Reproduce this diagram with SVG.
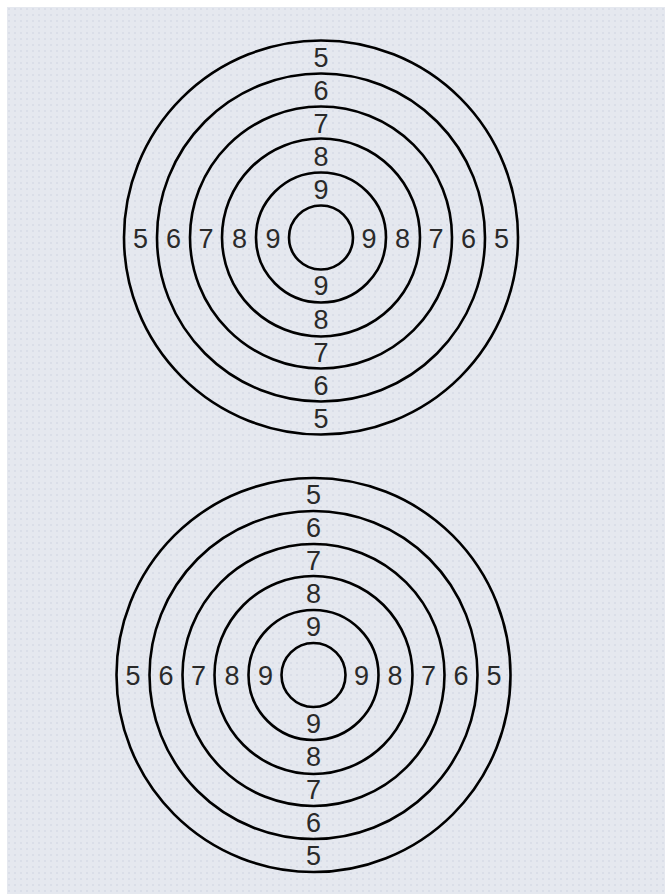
<svg xmlns="http://www.w3.org/2000/svg" width="665" height="894" viewBox="0 0 665 894">
  <defs>
    <pattern id="dots" x="7" y="7" width="6" height="6" patternUnits="userSpaceOnUse">
      <rect width="6" height="6" fill="#e5e8ef"/>
      <rect x="1" y="1" width="2" height="2" fill="#dadee8"/>
    </pattern>
  </defs>
  <style>
    .ring { fill: none; stroke: #000; stroke-width: 2.6; }
    .lbl { font-family: "Liberation Sans", Arial, sans-serif; font-size: 27px; fill: #2a2a2a; text-anchor: middle; }
  </style>
  <rect x="0" y="0" width="665" height="894" fill="#ffffff"/>
  <rect x="7" y="7" width="658" height="887" fill="url(#dots)"/>

  <g id="target-top" transform="translate(321,237.5)">
    <circle class="ring" r="197"/>
    <circle class="ring" r="164"/>
    <circle class="ring" r="131"/>
    <circle class="ring" r="99"/>
    <circle class="ring" r="65"/>
    <circle class="ring" r="32"/>
    <g class="lbl">
      <text x="0" y="-171">5</text>
      <text x="0" y="-138">6</text>
      <text x="0" y="-105">7</text>
      <text x="0" y="-72">8</text>
      <text x="0" y="-39">9</text>
      <text x="0" y="57.5">9</text>
      <text x="0" y="91">8</text>
      <text x="0" y="124">7</text>
      <text x="0" y="157">6</text>
      <text x="0" y="190">5</text>
      <text x="-180.5" y="10">5</text>
      <text x="-147.5" y="10">6</text>
      <text x="-115" y="10">7</text>
      <text x="-81.5" y="10">8</text>
      <text x="-48" y="10">9</text>
      <text x="48" y="10">9</text>
      <text x="81.5" y="10">8</text>
      <text x="115" y="10">7</text>
      <text x="147.5" y="10">6</text>
      <text x="180.5" y="10">5</text>
    </g>
  </g>

  <g id="target-bottom" transform="translate(313.5,675)">
    <circle class="ring" r="197"/>
    <circle class="ring" r="164"/>
    <circle class="ring" r="131"/>
    <circle class="ring" r="99"/>
    <circle class="ring" r="65"/>
    <circle class="ring" r="32"/>
    <g class="lbl">
      <text x="0" y="-171">5</text>
      <text x="0" y="-138">6</text>
      <text x="0" y="-105">7</text>
      <text x="0" y="-72">8</text>
      <text x="0" y="-39">9</text>
      <text x="0" y="57.5">9</text>
      <text x="0" y="91">8</text>
      <text x="0" y="124">7</text>
      <text x="0" y="157">6</text>
      <text x="0" y="190">5</text>
      <text x="-180.5" y="10">5</text>
      <text x="-147.5" y="10">6</text>
      <text x="-115" y="10">7</text>
      <text x="-81.5" y="10">8</text>
      <text x="-48" y="10">9</text>
      <text x="48" y="10">9</text>
      <text x="81.5" y="10">8</text>
      <text x="115" y="10">7</text>
      <text x="147.5" y="10">6</text>
      <text x="180.5" y="10">5</text>
    </g>
  </g>
</svg>
